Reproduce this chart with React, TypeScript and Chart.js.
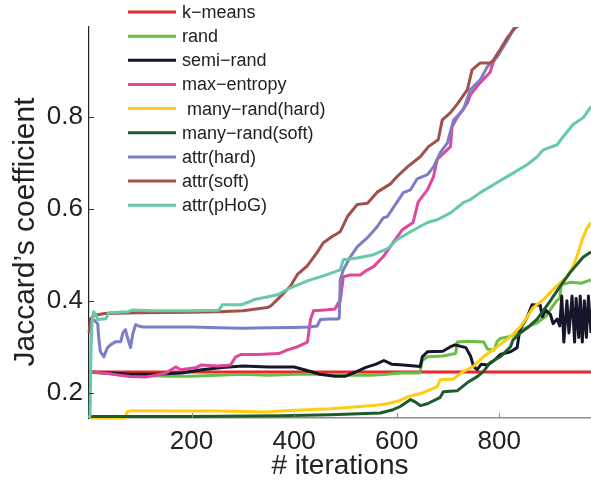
import React, { useEffect, useRef } from "react";
import { Chart, registerables } from "chart.js";

Chart.register(...registerables);

const FONT = '"Liberation Sans", Arial, Helvetica, sans-serif';

const xTicks = [200, 400, 600, 800];
const yTicks = [0.2, 0.4, 0.6, 0.8];
const xTitle = "# iterations";
const yTitle = "Jaccard\u2019s coefficient";

const seriesLabels = [
  "k\u2212means",
  "rand",
  "semi\u2212rand",
  "max\u2212entropy",
  " many\u2212rand(hard)",
  "many\u2212rand(soft)",
  "attr(hard)",
  "attr(soft)",
  "attr(pHoG)",
];
const seriesColors = [
  "#e8262b",
  "#6abd45",
  "#15152b",
  "#df479b",
  "#ffcc11",
  "#1f5a2a",
  "#7a7ec4",
  "#a0524a",
  "#66c9a8",
];

type P = [number, number];

const kmeans: P[] = [[0, 0.245], [979, 0.245]];

const rand: P[] = [
  [0, 0.245], [20, 0.243], [60, 0.24], [100, 0.238], [150, 0.236], [200, 0.236], [250, 0.238],
  [300, 0.24], [350, 0.238], [400, 0.24], [450, 0.24], [500, 0.238], [550, 0.238], [580, 0.24],
  [610, 0.243], [645, 0.243], [650, 0.27], [660, 0.278], [690, 0.28], [715, 0.285], [718, 0.31],
  [740, 0.312], [770, 0.31], [777, 0.295], [790, 0.293], [796, 0.311], [802, 0.318], [822, 0.322],
  [841, 0.335], [860, 0.345], [874, 0.352], [890, 0.365], [912, 0.4], [918, 0.405], [921, 0.435],
  [940, 0.44], [960, 0.438], [979, 0.445],
];

const semiRand: P[] = [
  [0, 0.245], [40, 0.243], [80, 0.24], [130, 0.24], [180, 0.243], [220, 0.25], [260, 0.255],
  [300, 0.258], [350, 0.256], [400, 0.256], [420, 0.25], [450, 0.24], [480, 0.236], [500, 0.236],
  [520, 0.245], [540, 0.255], [560, 0.262], [575, 0.27], [590, 0.262], [607, 0.261], [646, 0.257],
  [650, 0.278], [660, 0.289], [690, 0.29], [705, 0.3], [714, 0.304], [735, 0.298], [744, 0.28],
  [750, 0.257], [757, 0.25], [765, 0.262], [777, 0.26], [790, 0.27], [802, 0.283], [822, 0.289],
  [835, 0.298], [840, 0.337], [855, 0.365], [864, 0.391], [880, 0.39], [884, 0.365], [890, 0.38],
  [900, 0.37], [905, 0.35], [913, 0.36], [918, 0.345], [922, 0.41], [926, 0.31], [932, 0.4],
  [936, 0.33], [942, 0.41], [947, 0.31], [950, 0.405], [955, 0.32], [958, 0.41], [962, 0.31],
  [966, 0.4], [970, 0.32], [974, 0.41], [979, 0.33],
];

const maxEntropy: P[] = [
  [0, 0.245], [30, 0.243], [60, 0.238], [80, 0.235], [110, 0.234], [130, 0.238], [150, 0.243],
  [169, 0.256], [179, 0.25], [210, 0.255], [218, 0.26], [250, 0.258], [276, 0.26], [286, 0.278],
  [296, 0.283], [330, 0.283], [370, 0.285], [387, 0.293], [407, 0.3], [426, 0.31], [432, 0.359],
  [438, 0.378], [460, 0.38], [480, 0.382], [486, 0.395], [490, 0.4], [496, 0.452], [510, 0.456],
  [529, 0.456], [540, 0.465], [555, 0.474], [574, 0.496], [593, 0.526], [611, 0.554], [632, 0.57],
  [642, 0.615], [660, 0.641], [672, 0.67], [679, 0.707], [705, 0.735], [708, 0.778], [718, 0.798],
  [738, 0.83], [744, 0.848], [763, 0.874], [782, 0.896], [788, 0.917], [798, 0.939], [816, 0.967],
  [827, 0.989], [835, 1.0],
];

const manyRandHard: P[] = [
  [0, 0.145], [70, 0.145], [75, 0.159], [85, 0.161], [179, 0.16], [250, 0.16], [348, 0.158],
  [374, 0.16], [426, 0.163], [471, 0.165], [504, 0.168], [555, 0.172], [582, 0.176], [607, 0.183],
  [621, 0.191], [652, 0.2], [679, 0.213], [685, 0.228], [711, 0.23], [730, 0.246], [749, 0.257],
  [769, 0.278], [796, 0.3], [822, 0.322], [841, 0.343], [855, 0.365], [866, 0.385], [886, 0.402],
  [905, 0.424], [919, 0.439], [932, 0.452], [944, 0.474], [954, 0.504], [962, 0.533], [970, 0.555],
  [979, 0.57],
];

const manyRandSoft: P[] = [
  [0, 0.148], [200, 0.148], [374, 0.15], [471, 0.152], [568, 0.156], [593, 0.163], [607, 0.17],
  [627, 0.185], [636, 0.18], [646, 0.172], [660, 0.176], [685, 0.19], [691, 0.202], [718, 0.204],
  [738, 0.222], [757, 0.235], [769, 0.246], [782, 0.265], [802, 0.278], [822, 0.3], [827, 0.315],
  [841, 0.33], [855, 0.341], [874, 0.36], [900, 0.4], [918, 0.43], [938, 0.461], [964, 0.495],
  [979, 0.506],
];

const attrHard: P[] = [
  [0, 0.36], [10, 0.358], [17, 0.35], [19, 0.32], [22, 0.29], [29, 0.278], [33, 0.29], [36, 0.298],
  [42, 0.304], [52, 0.311], [62, 0.311], [66, 0.33], [71, 0.337], [75, 0.32], [81, 0.298],
  [85, 0.326], [91, 0.348], [97, 0.345], [105, 0.343], [200, 0.343], [253, 0.341], [300, 0.34],
  [350, 0.341], [400, 0.342], [432, 0.343], [445, 0.345], [451, 0.359], [470, 0.36], [485, 0.36],
  [488, 0.362], [490, 0.446], [496, 0.467], [510, 0.496], [523, 0.517], [543, 0.537], [562, 0.561],
  [574, 0.58], [582, 0.583], [601, 0.615], [613, 0.635], [627, 0.641], [640, 0.665], [660, 0.674],
  [672, 0.691], [685, 0.722], [699, 0.743], [711, 0.793], [730, 0.815], [744, 0.859], [763, 0.88],
  [777, 0.909], [796, 0.93], [816, 0.967], [827, 0.989], [835, 1.0],
];

const attrSoft: P[] = [
  [0, 0.33], [3, 0.36], [9, 0.368], [30, 0.372], [100, 0.374], [200, 0.375], [253, 0.376],
  [300, 0.378], [348, 0.385], [354, 0.388], [374, 0.41], [393, 0.432], [407, 0.458], [426, 0.476],
  [445, 0.505], [457, 0.526], [475, 0.54], [490, 0.55], [504, 0.583], [523, 0.609], [543, 0.612],
  [562, 0.636], [588, 0.654], [601, 0.67], [621, 0.691], [646, 0.713], [662, 0.735], [681, 0.75],
  [689, 0.793], [705, 0.809], [720, 0.83], [738, 0.859], [747, 0.902], [763, 0.917], [782, 0.917],
  [788, 0.922], [802, 0.946], [816, 0.972], [831, 0.993], [840, 1.0],
];

const attrPHoG: P[] = [
  [0, 0.145], [2, 0.15], [4, 0.3], [6, 0.355], [9, 0.376], [13, 0.37], [17, 0.359], [33, 0.361],
  [38, 0.374], [77, 0.376], [85, 0.38], [120, 0.378], [200, 0.378], [253, 0.379], [260, 0.391],
  [296, 0.391], [309, 0.396], [321, 0.402], [368, 0.413], [387, 0.425], [426, 0.443], [457, 0.454],
  [490, 0.467], [496, 0.489], [523, 0.493], [555, 0.5], [582, 0.513], [601, 0.533], [627, 0.55],
  [660, 0.57], [679, 0.576], [705, 0.591], [730, 0.613], [744, 0.62], [763, 0.635], [796, 0.657],
  [822, 0.674], [855, 0.696], [874, 0.713], [886, 0.728], [913, 0.739], [925, 0.757], [944, 0.783],
  [964, 0.798], [979, 0.822],
];

const allSeries = [kmeans, rand, semiRand, maxEntropy, manyRandHard, manyRandSoft, attrHard, attrSoft, attrPHoG];

const overlayPlugin = {
  id: "overlay",
  afterDraw(chart: any) {
    const { ctx, chartArea, scales } = chart;
    const xs = scales.x;
    const ys = scales.y;
    ctx.save();
    ctx.lineWidth = 1;
    ctx.strokeStyle = "#888";
    xTicks.forEach((v) => {
      const px = Math.round(xs.getPixelForValue(v)) + 0.5;
      ctx.beginPath();
      ctx.moveTo(px, chartArea.bottom);
      ctx.lineTo(px, chartArea.bottom - 5);
      ctx.stroke();
    });
    ctx.strokeStyle = "#333";
    yTicks.forEach((v) => {
      const py = Math.round(ys.getPixelForValue(v)) + 0.5;
      ctx.beginPath();
      ctx.moveTo(chartArea.left, py);
      ctx.lineTo(chartArea.left + 5, py);
      ctx.stroke();
    });
    // y title
    ctx.save();
    ctx.fillStyle = "#222";
    ctx.font = `30px ${FONT}`;
    ctx.translate(34, 232);
    ctx.rotate(-Math.PI / 2);
    ctx.textAlign = "center";
    ctx.textBaseline = "alphabetic";
    ctx.fillText(yTitle, 0, 0);
    ctx.restore();
    // legend
    ctx.font = `18px ${FONT}`;
    ctx.textAlign = "left";
    ctx.textBaseline = "middle";
    seriesLabels.forEach((label, i) => {
      const y = 12 + i * 24.15;
      ctx.strokeStyle = seriesColors[i];
      ctx.lineWidth = 3;
      ctx.beginPath();
      ctx.moveTo(128, y);
      ctx.lineTo(176, y);
      ctx.stroke();
      ctx.fillStyle = "#222";
      ctx.fillText(label, 182, y + 1);
    });
    ctx.restore();
  },
};

export default function App() {
  const canvasRef = useRef<HTMLCanvasElement | null>(null);

  useEffect(() => {
    if (!canvasRef.current) return;
    const datasets = allSeries.map((s, i) => ({
      label: seriesLabels[i],
      data: s.map(([x, y]) => ({ x, y })),
      borderColor: seriesColors[i],
      backgroundColor: seriesColors[i],
      borderWidth: 3,
      pointRadius: 0,
      tension: 0,
      fill: false,
      borderJoinStyle: "round" as const,
      order: allSeries.length - i,
      clip: { left: 2, top: 0, right: 0, bottom: 3 },
    }));
    const chart = new Chart(canvasRef.current, {
      type: "line",
      data: { datasets },
      options: {
        animation: false,
        responsive: false,
        devicePixelRatio: 1,
        layout: { padding: { top: 27, left: 0, right: 0, bottom: 0 } },
        plugins: { legend: { display: false }, tooltip: { enabled: false } },
        scales: {
          x: {
            type: "linear",
            min: 0,
            max: 979,
            grid: { display: false, drawTicks: false, tickLength: 0 },
            border: { display: true, color: "#8c8c8c", width: 1.5 },
            afterBuildTicks: (scale: any) => {
              scale.ticks = xTicks.map((v) => ({ value: v }));
            },
            afterFit: (scale: any) => {
              scale.height = 66;
            },
            ticks: {
              color: "#222",
              font: { family: FONT, size: 26 },
              padding: 8,
              maxRotation: 0,
              autoSkip: false,
              callback: (v: any) => String(v),
            },
            title: {
              display: true,
              text: xTitle,
              color: "#222",
              font: { family: FONT, size: 28 },
              padding: { top: 0, bottom: 1 },
            },
          },
          y: {
            type: "linear",
            min: 0.145,
            max: 0.995,
            grid: { display: false, drawTicks: false, tickLength: 0 },
            border: { display: true, color: "#222", width: 1.2 },
            afterBuildTicks: (scale: any) => {
              scale.ticks = yTicks.map((v) => ({ value: v }));
            },
            afterFit: (scale: any) => {
              scale.width = 89;
            },
            ticks: {
              color: "#222",
              font: { family: FONT, size: 26 },
              padding: 6,
              autoSkip: false,
              callback: (v: any) => Number(v).toFixed(1),
            },
          },
        },
      },
      plugins: [overlayPlugin],
    });
    return () => chart.destroy();
  }, []);

  return (
    <div style={{ position: "fixed", left: 0, top: 0, width: 591, height: 484, background: "#fff" }}>
      <canvas ref={canvasRef} width={591} height={484} style={{ display: "block" }} />
    </div>
  );
}
